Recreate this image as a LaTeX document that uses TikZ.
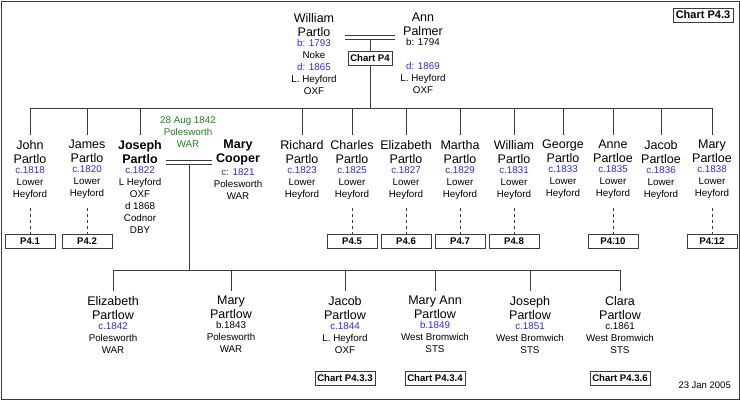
\documentclass[tikz,border=0pt]{standalone}
\usepackage{fontspec}
\setmainfont{Liberation Sans}
\definecolor{bl}{RGB}{40,40,255}
\definecolor{gr}{RGB}{30,130,30}
\definecolor{ln}{RGB}{60,60,60}
\begin{document}
\begin{tikzpicture}[x=1pt,y=-1pt,
  nm/.style={anchor=north,align=center,inner sep=0pt,font=\fontsize{12.5}{14}\selectfont},
  nmb/.style={nm,font=\fontsize{12.5}{14}\selectfont\bfseries},
  dt/.style={anchor=north,align=center,inner sep=0pt,font=\fontsize{9.8}{12}\selectfont},
  cbox/.style={draw=ln,fill=white,font=\fontsize{9.6}{12}\selectfont\bfseries,minimum height=14pt,inner sep=2.5pt},
  ref/.style={cbox,minimum width=50pt},
  lnk/.style={draw=ln,line width=0.8pt},
  dsh/.style={draw=ln,dashed,line width=0.6pt}]
\useasboundingbox (0,0) rectangle (740,400);
\draw[ln,line width=1pt] (1,1) rectangle (739,399);
\newcommand\person[5]{%
  \node[nm] (#1n) at (#2,#3) {#4};
  \node[dt] (#1d) at ([yshift=-2.5pt]#1n.south) {#5};}
\newcommand\personb[5]{%
  \node[nmb] (#1n) at (#2,#3) {#4};
  \node[dt] (#1d) at ([yshift=-2.5pt]#1n.south) {#5};}
% top couple
\person{wp}{314}{13}{William\\Partlo}{\textcolor{bl}{b: 1793}\\Noke\\\textcolor{bl}{d: 1865}\\L. Heyford\\OXF}
\person{ap}{423}{13}{Ann\\Palmer}{b: 1794\\[12pt]\textcolor{bl}{d: 1869}\\L. Heyford\\OXF}
\draw[lnk] (345,35) -- (395,35);
\draw[lnk] (345,39) -- (395,39);
\coordinate (tm) at (370,39);
\coordinate (tb) at (370,108);
\draw[lnk] (tm) -- (tb);
\node[cbox] (c4) at (370,58) {Chart P4};
\node[cbox] (c43) at (703,15) {\fontsize{11}{13}\selectfont Chart P4.3};
\node[anchor=east,inner sep=0pt,font=\fontsize{9.5}{11}\selectfont] (dte) at (731,385) {23 Jan 2005};
% siblings
\draw[lnk] (30,108) -- (712,108);
\person{jo}{30}{140}{John\\Partlo}{\textcolor{bl}{c.1818}\\Lower\\Heyford}
\person{ja}{87}{140}{James\\Partlo}{\textcolor{bl}{c.1820}\\Lower\\Heyford}
\personb{js}{140}{140}{Joseph\\Partlo}{\textcolor{bl}{c.1822}\\L Heyford\\OXF\\d 1868\\Codnor\\DBY}
\personb{mc}{238}{140}{Mary\\Cooper}{\textcolor{bl}{c: 1821}\\Polesworth\\WAR}
\person{ri}{302}{140}{Richard\\Partlo}{\textcolor{bl}{c.1823}\\Lower\\Heyford}
\person{ch}{352}{140}{Charles\\Partlo}{\textcolor{bl}{c.1825}\\Lower\\Heyford}
\person{el}{406}{140}{Elizabeth\\Partlo}{\textcolor{bl}{c.1827}\\Lower\\Heyford}
\person{ma}{460}{140}{Martha\\Partlo}{\textcolor{bl}{c.1829}\\Lower\\Heyford}
\person{wi}{514}{140}{William\\Partlo}{\textcolor{bl}{c.1831}\\Lower\\Heyford}
\person{ge}{563}{140}{George\\Partlo}{\textcolor{bl}{c.1833}\\Lower\\Heyford}
\person{an}{613}{140}{Anne\\Partloe}{\textcolor{bl}{c.1835}\\Lower\\Heyford}
\person{jc}{661}{140}{Jacob\\Partloe}{\textcolor{bl}{c.1836}\\Lower\\Heyford}
\person{my}{712}{140}{Mary\\Partloe}{\textcolor{bl}{c.1838}\\Lower\\Heyford}
\foreach \p/\x in {jo/30,ja/87,js/140,ri/302,ch/352,el/406,ma/460,wi/514,ge/563,an/613,jc/661,my/712}
  \draw[lnk] (\x,108) -- ([yshift=5pt]\p n.north);
\node[dt,text=gr] (mar) at (188,116) {28 Aug 1842\\Polesworth\\WAR};
\draw[lnk] (166,160) -- (212,160);
\draw[lnk] (166,164) -- (212,164);
% refs
\foreach \p/\x/\t in {jo/30/{P4.1},ja/87/{P4.2},ch/352/{P4.5},el/406/{P4.6},ma/460/{P4.7},wi/514/{P4.8},an/613/{P4.10},my/712/{P4.12}}{
  \node[ref] (r\p) at (\x,241) {\t};
  \draw[dsh] ([yshift=-9pt]\p d.south) -- ([yshift=-5pt]r\p.north);}
% children
\coordinate (jm) at (189,164); \coordinate (jb) at (189,270);
\draw[lnk] (jm) -- (jb);
\draw[lnk] (113,270) -- (620,270);
\person{ce}{113}{296}{Elizabeth\\Partlow}{\textcolor{bl}{c.1842}\\Polesworth\\WAR}
\person{cm}{231}{296}{Mary\\Partlow}{b.1843\\Polesworth\\WAR}
\person{cj}{345}{296}{Jacob\\Partlow}{\textcolor{bl}{c.1844}\\L. Heyford\\OXF}
\person{ca}{435}{296}{Mary Ann\\Partlow}{\textcolor{bl}{b.1849}\\West Bromwich\\STS}
\person{co}{530}{296}{Joseph\\Partlow}{\textcolor{bl}{c.1851}\\West Bromwich\\STS}
\person{cc}{620}{296}{Clara\\Partlow}{c.1861\\West Bromwich\\STS}
\foreach \p/\x in {ce/113,cm/231,cj/345,ca/435,co/530,cc/620}
  \draw[lnk] (\x,270) -- ([yshift=5pt]\p n.north);
\node[cbox] (b3) at (345,378) {Chart P4.3.3};
\node[cbox] (b4) at (435,378) {Chart P4.3.4};
\node[cbox] (b6) at (620,378) {Chart P4.3.6};
\end{tikzpicture}
\end{document}
